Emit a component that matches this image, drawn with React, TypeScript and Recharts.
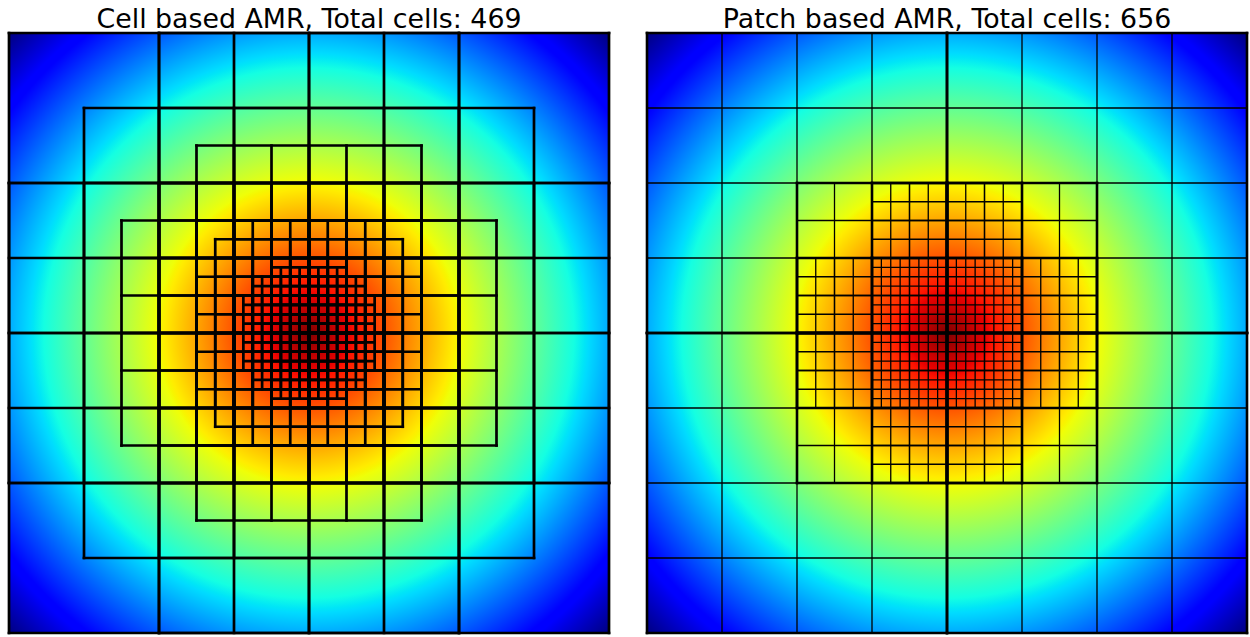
import React from "react";
import { ComposedChart, XAxis, YAxis, ReferenceArea, ReferenceLine } from "recharts";

// whole domain is 64 x 64 finest-cell units, [x0, x1, y0, y1] boxes per level
const DOMAIN = 64;

// Cell based AMR (left)
const cellSizes = [16, 8, 4, 2, 1];
const cellBoxes16 = [[0, 64, 0, 64]];
const cellBoxes8 = [[16, 48, 0, 64], [0, 64, 16, 48], [8, 56, 8, 56]];
const cellBoxes4 = [[12, 52, 20, 44], [20, 44, 12, 52], [16, 48, 16, 48]];
const cellBoxes2 = [[24, 40, 20, 44], [20, 44, 24, 40], [22, 42, 22, 42]];
const cellBoxes1 = [[28, 36, 25, 39], [25, 39, 28, 36], [26, 38, 26, 38]];
const cellLevels = [cellBoxes16, cellBoxes8, cellBoxes4, cellBoxes2, cellBoxes1];

// Patch based AMR (right)
const patchSizes = [8, 4, 2, 1];
const patchBoxes8 = [[0, 32, 0, 32], [32, 64, 0, 32], [0, 32, 32, 64], [32, 64, 32, 64]];
const patchBoxes4 = [[16, 32, 16, 32], [32, 48, 16, 32], [16, 32, 32, 48], [32, 48, 32, 48]];
const patchBoxes2 = [
  [24, 32, 16, 24], [32, 40, 16, 24], [16, 24, 24, 32], [40, 48, 24, 32],
  [16, 24, 32, 40], [40, 48, 32, 40], [24, 32, 40, 48], [32, 40, 40, 48],
];
const patchBoxes1 = [[24, 32, 24, 32], [32, 40, 24, 32], [24, 32, 32, 40], [32, 40, 32, 40]];
const patchLevels = [patchBoxes8, patchBoxes4, patchBoxes2, patchBoxes1];

// jet colormap, offset = distance from centre / distance to corner
const jetOffsets = [0, 0.09, 0.11, 0.34, 0.35, 0.36, 0.5, 0.625, 0.65, 0.66, 0.875, 0.89, 1];
const jetColors = [
  "#800000", "#e80000", "#ff1300", "#ffec00", "#f7f500", "#efff08",
  "#7bff7b", "#14ffe2", "#00e6f7", "#00dbff", "#0000ff", "#0000ff", "#000080",
];

const titles = ["Cell based AMR, Total cells: 469", "Patch based AMR, Total cells: 656"];

type Seg = [number, number, number, number];

// grid lines of each box at the level's cell size
const gridSegments = (levels: number[][][], sizes: number[]): Seg[] => {
  const segs: Seg[] = [];
  levels.forEach((boxes, i) => {
    const s = sizes[i];
    boxes.forEach(([x0, x1, y0, y1]) => {
      for (let x = x0; x <= x1; x += s) segs.push([x, y0, x, y1]);
      for (let y = y0; y <= y1; y += s) segs.push([x0, y, x1, y]);
    });
  });
  return segs;
};

const borderSegments = (levels: number[][][]): Seg[] => {
  const segs: Seg[] = [];
  levels.forEach((boxes) =>
    boxes.forEach(([x0, x1, y0, y1]) => {
      segs.push([x0, y0, x1, y0], [x0, y1, x1, y1], [x0, y0, x0, y1], [x1, y0, x1, y1]);
    })
  );
  return segs;
};

const AmrPanel = ({
  id,
  thin,
  thick,
}: {
  id: string;
  thin: { segs: Seg[]; width: number };
  thick?: { segs: Seg[]; width: number };
}) => (
  <ComposedChart width={610} height={611} margin={{ top: 5, right: 5, bottom: 6, left: 5 }} data={[]}>
    <defs>
      <radialGradient id={id} cx="50%" cy="50%" r="70.71%">
        {jetOffsets.map((o, i) => (
          <stop key={i} offset={o} stopColor={jetColors[i]} />
        ))}
      </radialGradient>
    </defs>
    <XAxis type="number" dataKey="x" domain={[0, DOMAIN]} hide allowDataOverflow />
    <YAxis type="number" dataKey="y" domain={[0, DOMAIN]} hide reversed allowDataOverflow />
    <ReferenceArea
      x1={0}
      x2={DOMAIN}
      y1={0}
      y2={DOMAIN}
      fill={`url(#${id})`}
      fillOpacity={1}
      stroke="none"
      ifOverflow="visible"
    />
    {thin.segs.map(([a, b, c, d], i) => (
      <ReferenceLine
        key={`t${i}`}
        segment={[{ x: a, y: b }, { x: c, y: d }]}
        stroke="#000"
        strokeWidth={thin.width}
        strokeLinecap="square"
        ifOverflow="visible"
      />
    ))}
    {thick &&
      thick.segs.map(([a, b, c, d], i) => (
        <ReferenceLine
          key={`k${i}`}
          segment={[{ x: a, y: b }, { x: c, y: d }]}
          stroke="#000"
          strokeWidth={thick.width}
          strokeLinecap="square"
          ifOverflow="visible"
        />
      ))}
  </ComposedChart>
);

const titleStyle = (left: number): React.CSSProperties => ({
  position: "absolute",
  left,
  top: 4,
  width: 600,
  textAlign: "center",
  fontFamily: "'DejaVu Sans', sans-serif",
  fontSize: 26.8,
  lineHeight: "30px",
  color: "#000",
  whiteSpace: "nowrap",
});

export default function App() {
  const cellSegs = gridSegments(cellLevels, cellSizes);
  const patchThin = gridSegments(patchLevels, patchSizes);
  const patchThick = borderSegments(patchLevels);

  return (
    <div style={{ position: "fixed", left: 0, top: 0, width: 1250, height: 637, background: "#fff" }}>
      <div style={titleStyle(9)}>{titles[0]}</div>
      <div style={titleStyle(647)}>{titles[1]}</div>
      <div style={{ position: "absolute", left: 4, top: 28 }}>
        <AmrPanel id="jetCell" thin={{ segs: cellSegs, width: 2.7 }} />
      </div>
      <div style={{ position: "absolute", left: 642, top: 28 }}>
        <AmrPanel
          id="jetPatch"
          thin={{ segs: patchThin, width: 1.3 }}
          thick={{ segs: patchThick, width: 2.6 }}
        />
      </div>
    </div>
  );
}
